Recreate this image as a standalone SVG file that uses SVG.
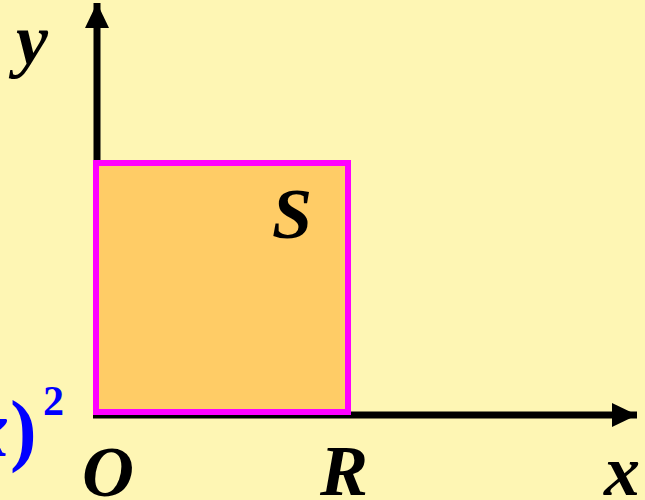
<svg xmlns="http://www.w3.org/2000/svg" width="645" height="500" viewBox="0 0 645 500">
<style>
.lbl{font-family:"Liberation Serif","Times New Roman",serif;font-weight:bold;font-style:italic;font-size:72px;fill:#000}
.blue{font-family:"Liberation Serif","Times New Roman",serif;font-weight:bold;fill:#0000FF}
.axis{stroke:#000;stroke-width:7;fill:none}
</style>
<defs>
<marker id="arr" markerUnits="userSpaceOnUse" markerWidth="26" markerHeight="24" refX="25" refY="12" orient="auto">
<path d="M0,0 L25,12 L0,24 Z" fill="#000"/>
</marker>
</defs>
<rect width="645" height="500" fill="#FEF6B4"/>
<g id="connectors">
<line class="axis" x1="97" y1="165" x2="97" y2="3" marker-end="url(#arr)"/>
<line class="axis" x1="93" y1="415" x2="637" y2="415" marker-end="url(#arr)"/>
</g>
<g id="square">
<rect x="96" y="163" width="252" height="249" fill="#FFCC66" stroke="#FF00FF" stroke-width="6"/>
</g>
<g id="labels">
<text class="lbl" x="16" y="64" font-size="74">y</text>
<text class="lbl" x="272" y="238">S</text>
<text class="lbl" x="82" y="496">O</text>
<text class="lbl" x="320" y="495">R</text>
<text class="lbl" x="604" y="495">x</text>
<text class="blue" y="456" font-size="80"><tspan x="-31" font-style="italic">x</tspan><tspan x="10">)</tspan><tspan x="43" y="415" font-size="42">2</tspan></text>
</g>
</svg>
